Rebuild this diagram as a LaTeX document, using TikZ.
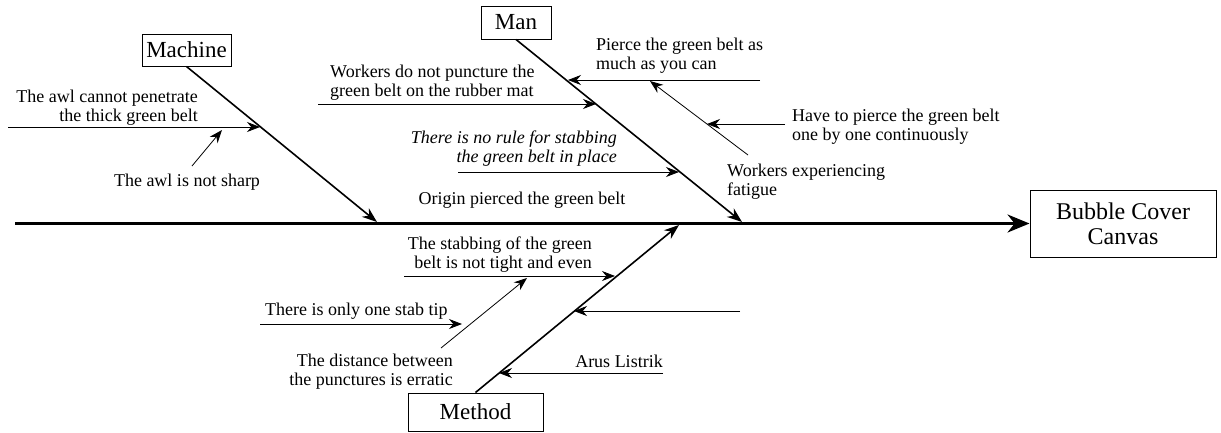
\documentclass[tikz,border=0pt]{standalone}
\usepackage{fontspec}
\setmainfont{Liberation Serif}
\usetikzlibrary{arrows.meta,positioning}

\begin{document}
\begin{tikzpicture}[x=1pt, y=-1pt,
    box/.style={draw, line width=1pt, inner sep=0pt},
    cat/.style={box, font=\fontsize{23}{26}\selectfont},
    cause/.style={font=\fontsize{18}{19.5}\selectfont, inner sep=0pt},
    bone/.style={line width=1.6pt, -{Stealth[length=15pt,width=11pt]}},
    twig/.style={line width=0.8pt, -{Stealth[length=13pt,width=10pt]}}]
  \useasboundingbox (0,0) rectangle (1221,432);

  % head and spine
  \node[box, font=\fontsize{24}{25}\selectfont, align=center, minimum width=186pt, minimum height=67pt] (effect) at (1123,223.5) {Bubble Cover\\Canvas};
  \coordinate (tail) at (15,223.5);
  \draw[line width=3pt, -{Stealth[length=22pt,width=18pt]}] (tail) -- (effect.west);

  % categories
  \node[cat, minimum width=89pt, minimum height=32pt] (machine) at (186.5,50) {Machine};
  \node[cat, minimum width=70pt, minimum height=33pt] (man) at (516,22.5) {Man};
  \node[cat, minimum width=135pt, minimum height=38pt] (method) at (475.5,412) {Method};
  \coordinate (machineEnd) at (377,222);
  \coordinate (manEnd) at (742,222);
  \coordinate (methodEnd) at (679,225);
  \draw[bone] (machine.south) -- (machineEnd);
  \draw[bone] (man.south) -- (manEnd);
  \draw[bone] (method.north) -- (methodEnd);
  \node[cause] (origin) at (522,204) [anchor=base] {Origin pierced the green belt};

  % machine
  \node[cause, align=right, anchor=north east] (thick) at (198,89.5) {The awl cannot penetrate\\the thick green belt};
  \coordinate (thickA) at (8,127);
  \coordinate (thickB) at (260,127);
  \draw[twig] (thickA) -- (thickB);
  \node[cause, anchor=base] (sharp) at (187,186) {The awl is not sharp};
  \coordinate (sharpA) at (192,166);
  \coordinate (sharpB) at (222,130);
  \draw[twig] (sharpA) -- (sharpB);

  % man
  \node[cause, align=left, anchor=north west] (mat) at (330,64.5) {Workers do not puncture the\\green belt on the rubber mat};
  \coordinate (matA) at (318,104);
  \coordinate (matB) at (596,104);
  \draw[twig] (matA) -- (matB);
  \node[cause, align=right, anchor=north east, font=\fontsize{18}{19.5}\selectfont\itshape] (rule) at (617,130.5) {There is no rule for stabbing\\the green belt in place};
  \coordinate (ruleA) at (458,172);
  \coordinate (ruleB) at (679,172);
  \draw[twig] (ruleA) -- (ruleB);
  \node[cause, align=left, anchor=north west] (pierce) at (596,37.5) {Pierce the green belt as\\much as you can};
  \coordinate (pierceA) at (760,80);
  \coordinate (pierceB) at (568,80);
  \draw[twig] (pierceA) -- (pierceB);
  \node[cause, align=left, anchor=north west] (fatigue) at (727,163.5) {Workers experiencing\\fatigue};
  \coordinate (fatigueA) at (748,155);
  \coordinate (fatigueB) at (650,81);
  \draw[twig] (fatigueA) -- (fatigueB);
  \node[cause, align=left, anchor=north west] (onebyone) at (792,108.5) {Have to pierce the green belt\\one by one continuously};
  \coordinate (onebyoneA) at (785,124);
  \coordinate (onebyoneB) at (707,124);
  \draw[twig] (onebyoneA) -- (onebyoneB);

  % method
  \node[cause, align=right, anchor=north east] (even) at (592,236.5) {The stabbing of the green\\belt is not tight and even};
  \coordinate (evenA) at (404,276);
  \coordinate (evenB) at (615,276);
  \draw[twig] (evenA) -- (evenB);
  \node[cause, align=right, anchor=north east] (erratic) at (453,353.5) {The distance between\\the punctures is erratic};
  \coordinate (erraticA) at (441,348);
  \coordinate (erraticB) at (527,278);
  \draw[twig] (erraticA) -- (erraticB);
  \node[cause, anchor=base west] (tip) at (265,315) {There is only one stab tip};
  \coordinate (tipA) at (260,324);
  \coordinate (tipB) at (462,324);
  \draw[twig] (tipA) -- (tipB);
  \coordinate (blankA) at (740,311);
  \coordinate (blankB) at (574,311);
  \draw[twig] (blankA) -- (blankB);
  \node[cause, anchor=base] (arus) at (619,367) {Arus Listrik};
  \coordinate (arusA) at (663,373);
  \coordinate (arusB) at (499,373);
  \draw[twig] (arusA) -- (arusB);
\end{tikzpicture}
\end{document}
